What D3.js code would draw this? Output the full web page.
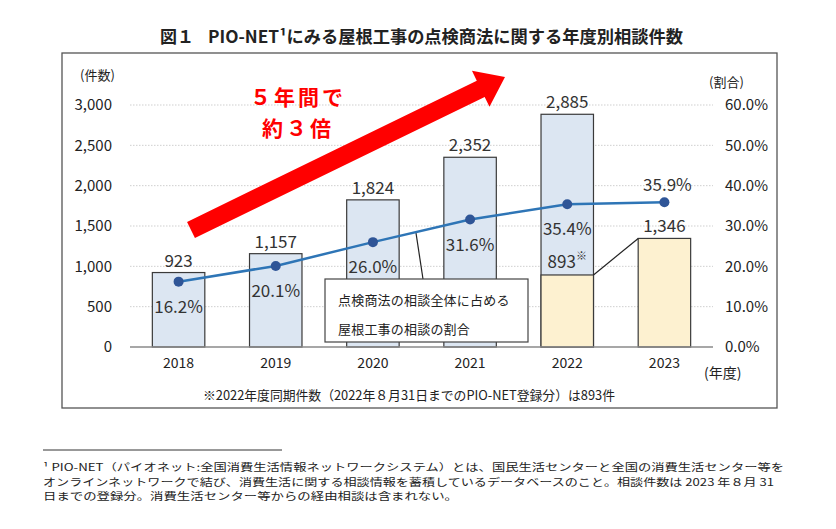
<!DOCTYPE html>
<html><head><meta charset="utf-8">
<script src="https://cdn.jsdelivr.net/npm/d3@7"></script>
<style>
html,body{margin:0;padding:0;background:#fff;}
svg{display:block;}
text{font-family:"Noto Sans CJK JP","Noto Sans",sans-serif;}
</style></head>
<body>
<svg id="chart" width="836" height="529"></svg>
<script>
// ---- data ----
const years = ["2018","2019","2020","2021","2022","2023"];
const counts = [923, 1157, 1824, 2352, 2885, 1346];
const shares = [16.2, 20.1, 26.0, 31.6, 35.4, 35.9];
const samePeriodCounts = [null, null, null, null, 893, 1346]; // yellow part (up to Aug 31)
const countTicks = [0, 500, 1000, 1500, 2000, 2500, 3000];
const shareTicks = [0, 10, 20, 30, 40, 50, 60];
const titleText = "図１";
const titleRest = "PIO-NET¹にみる屋根工事の点検商法に関する年度別相談件数";
const callout = ["点検商法の相談全体に占める", "屋根工事の相談の割合"];
const bigNote = ["５年間で", "約３倍"];
const noteText = "※2022年度同期件数（2022年８月31日までのPIO-NET登録分）は893件";
const footnote = [
  "¹ PIO-NET（パイオネット:全国消費生活情報ネットワークシステム）とは、国民生活センターと全国の消費生活センター等を",
  "オンラインネットワークで結び、消費生活に関する相談情報を蓄積しているデータベースのこと。相談件数は 2023 年８月 31",
  "日までの登録分。消費生活センター等からの経由相談は含まれない。"
];

const svg = d3.select("#chart");
svg.append("rect").attr("width",836).attr("height",529).attr("fill","#fff");

const x = d3.scaleBand().domain(years).range([130, 713]).paddingInner(0.46).paddingOuter(0.23);
const yL = d3.scaleLinear().domain([0, 3000]).range([347, 105]);
const yR = d3.scaleLinear().domain([0, 60]).range([347, 105]);
const cx = d => x(d) + x.bandwidth()/2;

// title
svg.append("text").attr("x",160).attr("y",43).attr("font-size",17).attr("font-weight","bold")
  .attr("fill","#222").text(titleText);
svg.append("text").attr("x",208).attr("y",43).attr("font-size",17).attr("font-weight","bold")
  .attr("fill","#222").attr("textLength",475).attr("lengthAdjust","spacingAndGlyphs").text(titleRest);

// frame
svg.append("rect").attr("x",62).attr("y",53).attr("width",715).attr("height",355)
  .attr("fill","none").attr("stroke","#555").attr("stroke-width",1.3);

// gridlines
svg.append("g").selectAll("line").data(countTicks.filter(d=>d>0)).join("line")
  .attr("x1",130).attr("x2",713).attr("y1",d=>yL(d)).attr("y2",d=>yL(d))
  .attr("stroke","#cfcfcf").attr("stroke-width",1).attr("stroke-dasharray","1.5,1.5");

// left axis
const axL = svg.append("g").attr("transform","translate(112,0)")
  .call(d3.axisLeft(yL).tickValues(countTicks).tickSize(0).tickPadding(0).tickFormat(d3.format(",")));
axL.select(".domain").remove();
axL.selectAll("text").attr("font-size",15).attr("fill","#222").attr("font-family",'"Noto Sans CJK JP",sans-serif');

// right axis
const axR = svg.append("g").attr("transform","translate(725,0)")
  .call(d3.axisRight(yR).tickValues(shareTicks).tickSize(0).tickPadding(0).tickFormat(d=>d3.format(".1f")(d)+"%"));
axR.select(".domain").remove();
axR.selectAll("text").attr("font-size",15).attr("fill","#222").attr("font-family",'"Noto Sans CJK JP",sans-serif');

// axis unit labels
svg.append("text").attr("x",80).attr("y",80).attr("font-size",13).attr("fill","#222").text("(件数)");
svg.append("text").attr("x",709).attr("y",87).attr("font-size",13).attr("fill","#222").text("(割合)");
svg.append("text").attr("x",704).attr("y",378).attr("font-size",14).attr("fill","#222").text("(年度)");

// bars (full, blue)
svg.append("g").selectAll("rect").data(years.slice(0,5)).join("rect")
  .attr("x",d=>x(d)).attr("width",x.bandwidth())
  .attr("y",(d,i)=>yL(counts[i])).attr("height",(d,i)=>yL(0)-yL(counts[i]))
  .attr("fill","#dce6f2").attr("stroke","#3a3a3a").attr("stroke-width",1.2);

// yellow same-period bars
const yel = years.map((d,i)=>({year:d, v:samePeriodCounts[i]})).filter(d=>d.v!==null);
svg.append("g").selectAll("rect").data(yel).join("rect")
  .attr("x",d=>x(d.year)).attr("width",x.bandwidth())
  .attr("y",d=>yL(d.v)).attr("height",d=>yL(0)-yL(d.v))
  .attr("fill","#fdf1d0").attr("stroke","#3a3a3a").attr("stroke-width",1.2);

// connector between 2022 partial and 2023
svg.append("line")
  .attr("x1",x("2022")+x.bandwidth()).attr("y1",yL(samePeriodCounts[4]))
  .attr("x2",x("2023")).attr("y2",yL(counts[5]))
  .attr("stroke","#222").attr("stroke-width",1.2);

// baseline
svg.append("line").attr("x1",130).attr("x2",713).attr("y1",yL(0)).attr("y2",yL(0))
  .attr("stroke","#8a8a8a").attr("stroke-width",1.5);

// category labels
svg.append("g").selectAll("text").data(years).join("text")
  .attr("x",d=>cx(d)).attr("y",368).attr("text-anchor","middle").attr("font-size",14)
  .attr("fill","#222").text(d=>d);

// bar value labels
svg.append("g").selectAll("text").data(years).join("text")
  .attr("x",d=>cx(d)).attr("y",(d,i)=>yL(counts[i])-6).attr("text-anchor","middle")
  .attr("font-size",17).attr("fill","#333").text((d,i)=>d3.format(",")(counts[i]));

// 893※ label
const lab893 = svg.append("text").attr("x",cx("2022")).attr("y",yL(samePeriodCounts[4])-7)
  .attr("text-anchor","middle").attr("font-size",17).attr("fill","#333");
lab893.append("tspan").text(d3.format(",")(samePeriodCounts[4]));
lab893.append("tspan").attr("font-size",11).attr("dy",-8).text("※");

// callout box + leader
svg.append("line").attr("x1",416).attr("y1",233).attr("x2",423).attr("y2",279)
  .attr("stroke","#222").attr("stroke-width",1.2);
svg.append("rect").attr("x",325).attr("y",279).attr("width",203).attr("height",63)
  .attr("fill","#fff").attr("stroke","#444").attr("stroke-width",1.2);
svg.append("g").selectAll("text").data(callout).join("text")
  .attr("x",338).attr("y",(d,i)=>305+i*29).attr("font-size",13).attr("fill","#222")
  .attr("letter-spacing",0.2).text(d=>d);

// line
const line = d3.line().x((d,i)=>cx(years[i])).y(d=>yR(d));
svg.append("path").datum(shares).attr("d",line).attr("fill","none")
  .attr("stroke","#2e75b6").attr("stroke-width",2.5);
svg.append("g").selectAll("circle").data(shares).join("circle")
  .attr("cx",(d,i)=>cx(years[i])).attr("cy",d=>yR(d)).attr("r",5)
  .attr("fill","#2f5597");

// share labels
svg.append("g").selectAll("text").data(shares).join("text")
  .attr("x",(d,i)=>cx(years[i])+ (i===5?3:0))
  .attr("y",(d,i)=> i===5 ? yR(d)-11 : yR(d)+31)
  .attr("text-anchor","middle").attr("font-size",17).attr("fill","#333")
  .text(d=>d3.format(".1f")(d)+"%");

// red arrow (annotation)
(function(){
  const S=[191,230], T=[505,77];
  const dx=T[0]-S[0], dy=T[1]-S[1], L=Math.hypot(dx,dy);
  const u=[dx/L,dy/L], n=[-u[1],u[0]];
  const hw=9, headL=27, headW=20;
  const B=[T[0]-u[0]*headL, T[1]-u[1]*headL];
  const p=(P,k)=>[P[0]+n[0]*k, P[1]+n[1]*k];
  const pts=[p(S,hw),p(B,hw),p(B,headW),T,p(B,-headW),p(B,-hw),p(S,-hw)];
  svg.append("polygon").attr("points",pts.map(q=>q.join(",")).join(" ")).attr("fill","#ff0000");
})();
svg.append("g").selectAll("text").data(bigNote).join("text")
  .attr("x",298).attr("y",(d,i)=>105+i*31).attr("text-anchor","middle")
  .attr("font-size",21).attr("font-weight","bold").attr("fill","#ff0000")
  .attr("letter-spacing",3).text(d=>d);

// note under chart
svg.append("text").attr("x",203).attr("y",400).attr("font-size",13).attr("fill","#222")
  .attr("textLength",412).attr("lengthAdjust","spacingAndGlyphs").text(noteText);

// footnote
svg.append("line").attr("x1",43).attr("x2",282).attr("y1",450).attr("y2",450)
  .attr("stroke","#333").attr("stroke-width",1);
const fnLens=[741,731,415];
svg.append("g").selectAll("text").data(footnote).join("text")
  .attr("x",43).attr("y",(d,i)=>471+i*14.6).attr("font-size",10).attr("fill","#222")
  .attr("textLength",(d,i)=>fnLens[i]).attr("lengthAdjust","spacingAndGlyphs").text(d=>d);
</script>
</body></html>
